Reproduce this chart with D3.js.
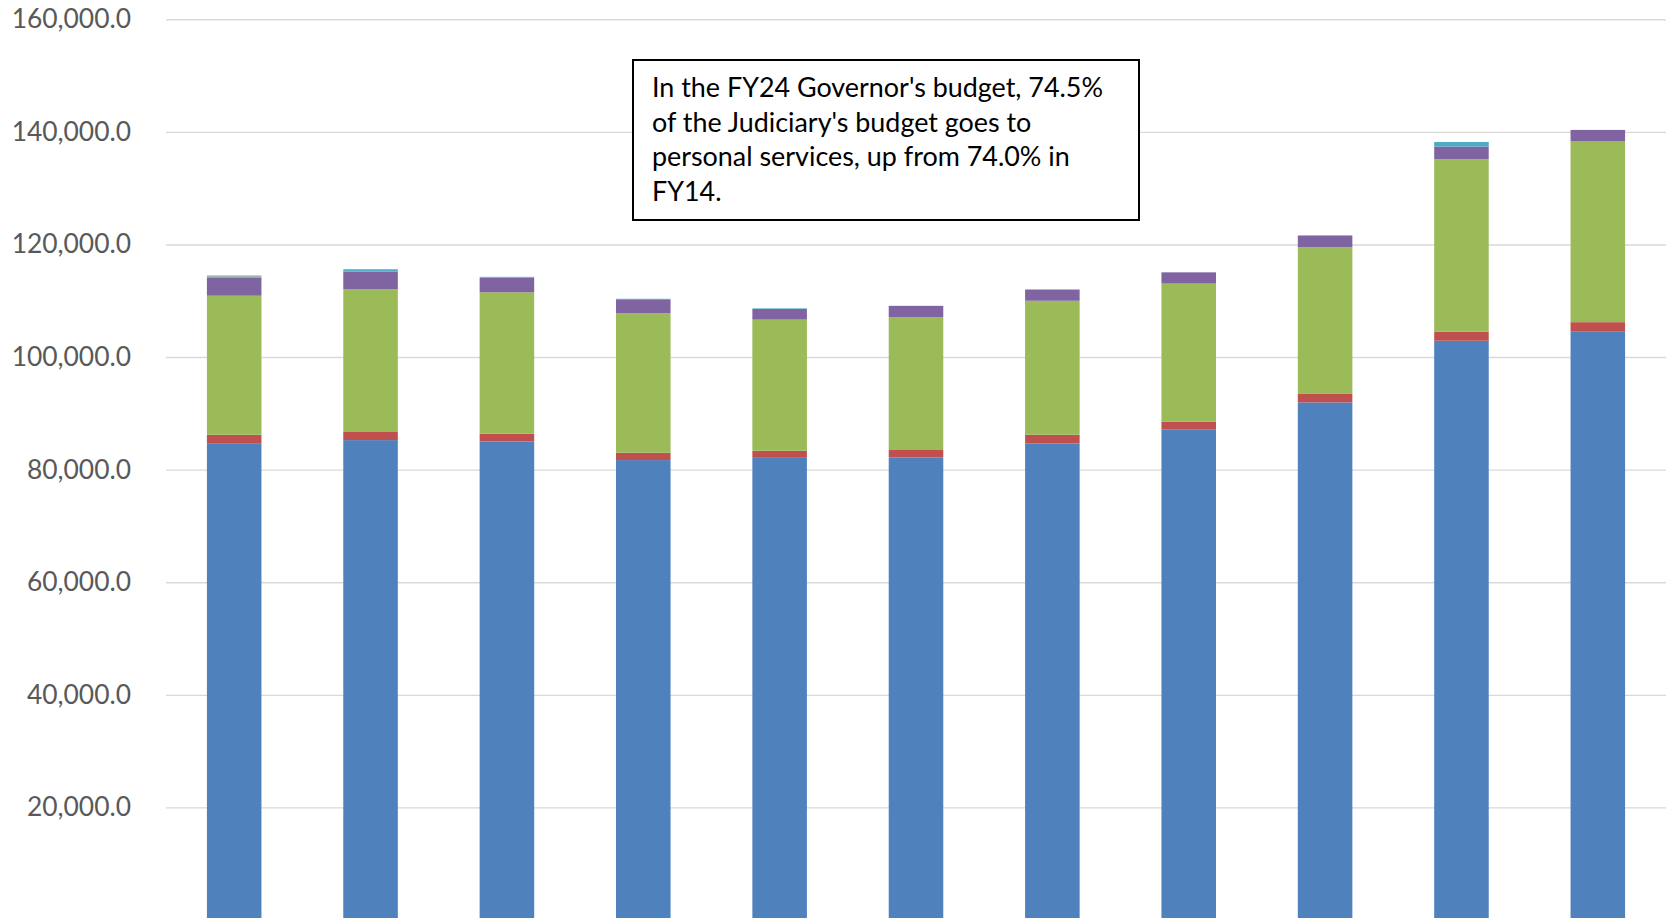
<!DOCTYPE html>
<html>
<head>
<meta charset="utf-8">
<script src="https://cdn.jsdelivr.net/npm/d3@7"></script>
<style>
  html, body { margin: 0; padding: 0; background: #fff; }
  svg { display: block; }
</style>
</head>
<body>
<svg id="chart" width="1672" height="918"></svg>
<script>
// fiscal years (x labels sit below the visible crop)
const categories = ['FY14', 'FY15', 'FY16', 'FY17', 'FY18', 'FY19', 'FY20', 'FY21', 'FY22', 'FY23', 'FY24'];

const personalServices = [84700, 85250, 85000, 81700, 82100, 82150, 84650, 87100, 91950, 102900, 104500];
const otherExpenses    = [1500, 1550, 1400, 1300, 1250, 1450, 1550, 1400, 1500, 1600, 1700];
const currentExpenses  = [24700, 25250, 25100, 24800, 23300, 23500, 23800, 24550, 26050, 30650, 32100];
const grantPayments    = [3200, 3150, 2600, 2350, 1900, 2000, 2000, 2000, 2100, 2250, 2050];
const equipment        = [250, 400, 150, 200, 100, 0, 0, 0, 0, 800, 0];
const otherFunds       = [150, 0, 0, 0, 0, 0, 0, 0, 0, 0, 0];

const yTicks = [20000, 40000, 60000, 80000, 100000, 120000, 140000, 160000];

const noteLines = [
  "In the FY24 Governor's budget, 74.5%",
  "of the Judiciary's budget goes to",
  "personal services, up from 74.0% in",
  "FY14."
];

const keys = ['ps', 'oe', 'oce', 'grants', 'equip', 'other'];
const colors = ['#4F81BD', '#C0504D', '#9BBB59', '#8064A2', '#4BACC6', '#F79646'];

const rows = categories.map((c, i) => ({
  year: c,
  ps: personalServices[i],
  oe: otherExpenses[i],
  oce: currentExpenses[i],
  grants: grantPayments[i],
  equip: equipment[i],
  other: otherFunds[i]
}));

const svg = d3.select('#chart');

const x = d3.scaleBand()
  .domain(categories)
  .range([166, 1666])
  .paddingInner(0.6)
  .paddingOuter(0.3);

const y = d3.scaleLinear()
  .domain([0, 160000])
  .range([920, 19.3]);

const color = d3.scaleOrdinal().domain(keys).range(colors);

// gridlines + labels
const yAxis = svg.append('g')
  .attr('transform', 'translate(166,0)')
  .call(d3.axisLeft(y)
    .tickValues(yTicks)
    .tickSize(-1500)
    .tickPadding(35)
    .tickFormat(d3.format(',.1f')));

yAxis.select('.domain').remove();
yAxis.selectAll('.tick line')
  .attr('stroke', '#d9d9d9')
  .attr('stroke-width', 1.4);
yAxis.selectAll('.tick text')
  .attr('fill', '#595959')
  .style('font-family', 'Lato, "Open Sans", sans-serif')
  .style('font-size', '26.4px');

const stacked = d3.stack().keys(keys)(rows);

svg.append('g')
  .selectAll('g')
  .data(stacked)
  .join('g')
  .attr('fill', d => color(d.key))
  .selectAll('rect')
  .data(d => d.filter(s => s[1] - s[0] > 0))
  .join('rect')
  .attr('x', d => x(d.data.year))
  .attr('width', x.bandwidth())
  .attr('y', d => y(d[1]))
  .attr('height', d => y(d[0]) - y(d[1]));

// annotation box
const note = svg.append('g');
note.append('rect')
  .attr('x', 633)
  .attr('y', 60)
  .attr('width', 506)
  .attr('height', 160)
  .attr('fill', '#fff')
  .attr('stroke', '#000')
  .attr('stroke-width', 2);

note.selectAll('text')
  .data(noteLines)
  .join('text')
  .attr('x', 652)
  .attr('y', (d, i) => 97 + i * 34.5)
  .attr('fill', '#000')
  .style('font-family', 'Lato, "Open Sans", sans-serif')
  .style('font-size', '26.9px')
  .text(d => d);
</script>
</body>
</html>
